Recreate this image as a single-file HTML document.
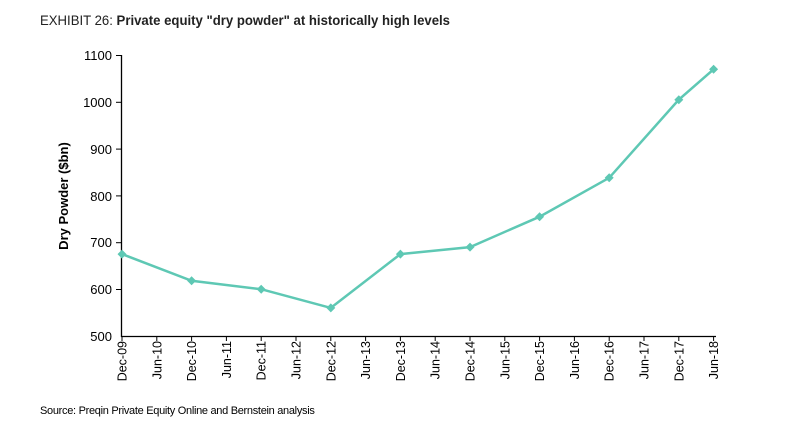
<!DOCTYPE html>
<html><head><style>body{margin:0;background:#fff;width:799px;height:433px;overflow:hidden}</style></head><body>
<svg width="799" height="433" xmlns="http://www.w3.org/2000/svg" font-family="Liberation Sans, Arial, sans-serif">
<text x="40" y="25" font-size="13.5" fill="#222" textLength="410" lengthAdjust="spacingAndGlyphs"><tspan>EXHIBIT 26: </tspan><tspan font-weight="bold">Private equity "dry powder" at historically high levels</tspan></text>
<g stroke="#000" stroke-width="1.3" fill="none">
<line x1="121.5" y1="55" x2="121.5" y2="337"/>
<line x1="121" y1="336.5" x2="716" y2="336.5"/>
</g>
<g stroke="#000" stroke-width="1">
<line x1="116" y1="55.5" x2="121" y2="55.5"/>
<line x1="116" y1="102.3" x2="121" y2="102.3"/>
<line x1="116" y1="149.1" x2="121" y2="149.1"/>
<line x1="116" y1="195.9" x2="121" y2="195.9"/>
<line x1="116" y1="242.7" x2="121" y2="242.7"/>
<line x1="116" y1="289.5" x2="121" y2="289.5"/>
<line x1="122" y1="336" x2="122" y2="341"/>
<line x1="156.8" y1="336" x2="156.8" y2="341"/>
<line x1="191.6" y1="336" x2="191.6" y2="341"/>
<line x1="226.4" y1="336" x2="226.4" y2="341"/>
<line x1="261.2" y1="336" x2="261.2" y2="341"/>
<line x1="296" y1="336" x2="296" y2="341"/>
<line x1="330.8" y1="336" x2="330.8" y2="341"/>
<line x1="365.6" y1="336" x2="365.6" y2="341"/>
<line x1="400.4" y1="336" x2="400.4" y2="341"/>
<line x1="435.2" y1="336" x2="435.2" y2="341"/>
<line x1="470" y1="336" x2="470" y2="341"/>
<line x1="504.8" y1="336" x2="504.8" y2="341"/>
<line x1="539.6" y1="336" x2="539.6" y2="341"/>
<line x1="574.4" y1="336" x2="574.4" y2="341"/>
<line x1="609.2" y1="336" x2="609.2" y2="341"/>
<line x1="644" y1="336" x2="644" y2="341"/>
<line x1="678.8" y1="336" x2="678.8" y2="341"/>
<line x1="713.6" y1="336" x2="713.6" y2="341"/>
</g>
<g font-size="13" text-anchor="end" fill="#000">
<text x="112" y="60">1100</text><text x="112" y="107">1000</text><text x="112" y="154">900</text><text x="112" y="201">800</text><text x="112" y="247">700</text><text x="112" y="294">600</text><text x="112" y="341">500</text>
</g>
<text transform="translate(68,196) rotate(-90)" font-size="13" font-weight="bold" text-anchor="middle">Dry Powder ($bn)</text>
<g font-size="12.5" text-anchor="end" fill="#000">
<text transform="translate(126.5,341) rotate(-90)">Dec-09</text>
<text transform="translate(161.3,341) rotate(-90)">Jun-10</text>
<text transform="translate(196.1,341) rotate(-90)">Dec-10</text>
<text transform="translate(230.9,341) rotate(-90)">Jun-11</text>
<text transform="translate(265.7,341) rotate(-90)">Dec-11</text>
<text transform="translate(300.5,341) rotate(-90)">Jun-12</text>
<text transform="translate(335.3,341) rotate(-90)">Dec-12</text>
<text transform="translate(370.1,341) rotate(-90)">Jun-13</text>
<text transform="translate(404.9,341) rotate(-90)">Dec-13</text>
<text transform="translate(439.7,341) rotate(-90)">Jun-14</text>
<text transform="translate(474.5,341) rotate(-90)">Dec-14</text>
<text transform="translate(509.3,341) rotate(-90)">Jun-15</text>
<text transform="translate(544.1,341) rotate(-90)">Dec-15</text>
<text transform="translate(578.9,341) rotate(-90)">Jun-16</text>
<text transform="translate(613.7,341) rotate(-90)">Dec-16</text>
<text transform="translate(648.5,341) rotate(-90)">Jun-17</text>
<text transform="translate(683.3,341) rotate(-90)">Dec-17</text>
<text transform="translate(718.1,341) rotate(-90)">Jun-18</text>
</g>
<polyline fill="none" stroke="#5ec8b4" stroke-width="2.5" points="122,254.1 191.6,280.8 261.2,289.2 330.8,307.9 400.4,254.1 470,247.1 539.6,216.7 609.2,177.8 678.8,99.7 713.6,69.3"/>
<path fill="#5ec8b4" d="M122,249.6l4.5,4.5-4.5,4.5-4.5-4.5z M191.6,276.3l4.5,4.5-4.5,4.5-4.5-4.5z M261.2,284.7l4.5,4.5-4.5,4.5-4.5-4.5z M330.8,303.4l4.5,4.5-4.5,4.5-4.5-4.5z M400.4,249.6l4.5,4.5-4.5,4.5-4.5-4.5z M470,242.6l4.5,4.5-4.5,4.5-4.5-4.5z M539.6,212.2l4.5,4.5-4.5,4.5-4.5-4.5z M609.2,173.3l4.5,4.5-4.5,4.5-4.5-4.5z M678.8,95.2l4.5,4.5-4.5,4.5-4.5-4.5z M713.6,64.8l4.5,4.5-4.5,4.5-4.5-4.5z"/>
<text x="40" y="414" font-size="11" fill="#000" letter-spacing="-0.3">Source: Preqin Private Equity Online and Bernstein analysis</text>
</svg>
</body></html>
